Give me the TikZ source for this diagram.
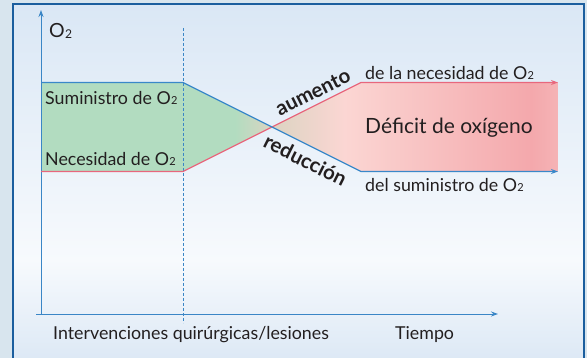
\documentclass[tikz,border=0pt]{standalone}
\usepackage{fontspec}
\setmainfont{Lato}
\usetikzlibrary{arrows.meta}
\definecolor{outerbg}{HTML}{D8E5EE}
\definecolor{panelborder}{HTML}{1B5E9E}
\definecolor{paneltop}{HTML}{DAE7F5}
\definecolor{panelmid}{HTML}{F7FAFD}
\definecolor{panelbot}{HTML}{DCE8F5}
\definecolor{axisblue}{HTML}{3A86C6}
\definecolor{supplyblue}{HTML}{3A88C9}
\definecolor{needred}{HTML}{E8677D}
\definecolor{greenfill}{HTML}{B2DCC0}
\definecolor{tanfill}{HTML}{DCD4C2}
\definecolor{pinkA}{HTML}{FBD6D3}
\definecolor{pinkB}{HTML}{F4A8AC}
\definecolor{pinkC}{HTML}{F5B4B6}
\definecolor{txt}{HTML}{231F20}
\newcommand\Otwo{O\kern0.3pt\raisebox{-0.04em}{\scalebox{0.62}{2}}}
\begin{document}
\begin{tikzpicture}[x=1pt,y=-1pt,
  axisline/.style={axisblue, line width=0.9pt},
  tip/.style={-{Stealth[length=7pt,width=5pt]}},
  curve/.style={line width=1.3pt, line join=miter},
  lbl/.style={text=txt, inner sep=0pt, font=\fontsize{17.8}{21}\selectfont},
  biglbl/.style={text=txt, inner sep=0pt, font=\fontsize{21}{25}\selectfont},
  boldlbl/.style={text=txt, inner sep=0pt, font=\fontsize{20.5}{24}\selectfont\bfseries}]
\useasboundingbox (0,0) rectangle (587,358);
\fill[outerbg] (0,0) rectangle (587,358);
\shade[top color=paneltop, bottom color=panelmid] (13,4) rectangle (584,261);
\shade[top color=panelmid, bottom color=panelbot] (13,260) rectangle (584,362);
\draw[panelborder, line width=2.2pt] (13,362) -- (13,4) -- (584,4) -- (584,362);

% coordinates
\coordinate (b0) at (41,82.5);
\coordinate (b1) at (183,82.5);
\coordinate (x0) at (272,127);
\coordinate (b2) at (361,171.5);
\coordinate (b3) at (558,171.5);
\coordinate (r0) at (41,171.5);
\coordinate (r1) at (183,171.5);
\coordinate (r2) at (361,82.5);
\coordinate (r3) at (558,82.5);

% filled region
\begin{scope}
\clip (b0) -- (b1) -- (x0) -- (r2) -- (r3) -- (b3) -- (b2) -- (x0) -- (r1) -- (r0) -- cycle;
\fill[greenfill] (40,60) rectangle (236,190);
\shade[left color=greenfill, right color=tanfill] (235,60) rectangle (273,190);
\shade[left color=tanfill, right color=pinkA] (272,60) rectangle (345,190);
\shade[left color=pinkA, right color=pinkB] (344,60) rectangle (532,190);
\shade[left color=pinkB, right color=pinkC] (531,60) rectangle (560,190);
\end{scope}

% axes
\draw[axisline, dashed, dash pattern=on 3pt off 2pt, line width=0.6pt] (183,28) -- (183,323);
\draw[axisline, tip] (41,314) -- (41,10);
\draw[axisline, tip] (36,314) -- (498,314);

% curves
\draw[curve, needred, tip] (r0) -- (r1) -- (r2) -- (r3);
\draw[curve, supplyblue, tip] (b0) -- (b1) -- (b2) -- (b3);

% labels
\node[lbl, anchor=west, font=\fontsize{19.5}{22}\selectfont] (o2) at (49,31) {\Otwo};
\node[lbl, anchor=west] (sup) at (45,98) {Suministro de \Otwo};
\node[lbl, anchor=west] (need) at (45,159) {Necesidad de \Otwo};
\node[boldlbl, rotate=26.57] (aum) at (313,92.5) {aumento};
\node[boldlbl, rotate=-26.57] (red) at (305.5,160) {reducción};
\node[lbl, anchor=west] (needup) at (365,73) {de la necesidad de \Otwo};
\node[biglbl, anchor=west] (def) at (365,128) {Déficit de oxígeno};
\node[lbl, anchor=west] (supdown) at (365,185) {del suministro de \Otwo};
\node[lbl, anchor=west] (interv) at (53,335) {Intervenciones quirúrgicas/lesiones};
\node[lbl, anchor=west] (tiempo) at (395,335) {Tiempo};
\end{tikzpicture}
\end{document}
